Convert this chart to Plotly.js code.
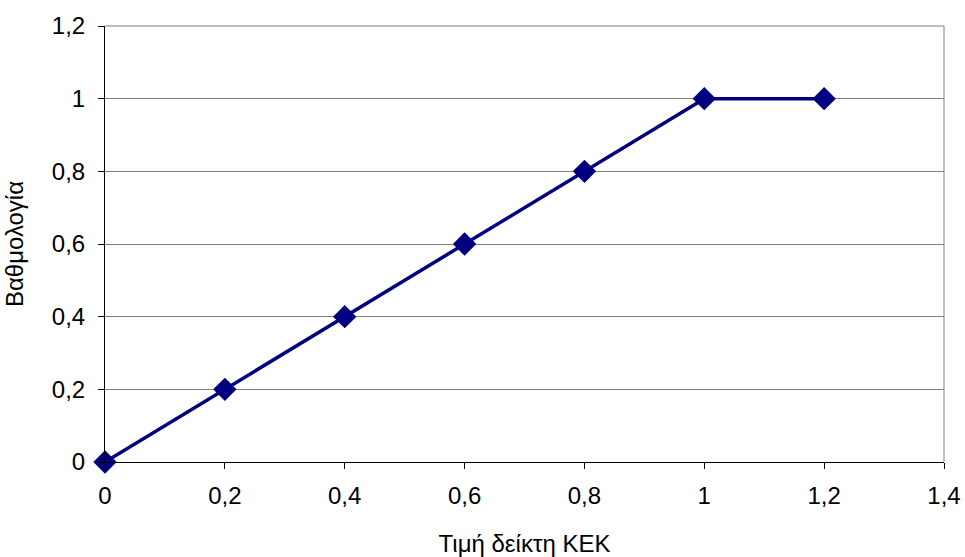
<!DOCTYPE html>
<html>
<head>
<meta charset="utf-8">
<script src="https://cdn.plot.ly/plotly-3.0.1.min.js"></script>
<style>html,body{margin:0;padding:0;background:#fff;}#chart{width:965px;height:557px;}</style>
</head>
<body>
<div id="chart"></div>
<script>
const xValues = [0, 0.2, 0.4, 0.6, 0.8, 1, 1.2];
const yValues = [0, 0.2, 0.4, 0.6, 0.8, 1, 1];
const xTitle = "Τιμή δείκτη ΚΕΚ";
const yTitle = "Βαθμολογία";

const trace = {
  x: xValues, y: yValues, type: "scatter", mode: "lines+markers",
  line: {color: "#000080", width: 3.5},
  marker: {symbol: "diamond", size: 18, color: "#000080"},
  cliponaxis: false, hoverinfo: "none"
};
const font = {family: "Liberation Sans, Arial, sans-serif", size: 24, color: "#000"};
const layout = {
  width: 965, height: 557,
  margin: {l: 105, r: 21, t: 26, b: 95},
  paper_bgcolor: "#fff", plot_bgcolor: "#fff",
  separators: ",.",
  showlegend: false,
  font: font,
  xaxis: {
    range: [0, 1.4], dtick: 0.2, tick0: 0,
    showgrid: false, zeroline: false,
    showline: true, linecolor: "#000", linewidth: 1,
    ticks: "outside", ticklen: 6, tickcolor: "#000",
    ticklabelstandoff: 6,
    tickfont: font,
    title: {text: xTitle, font: font, standoff: 30}
  },
  yaxis: {
    range: [0, 1.2], dtick: 0.2, tick0: 0,
    showgrid: true, gridcolor: "#808080", gridwidth: 1,
    zeroline: false,
    showline: true, linecolor: "#000", linewidth: 1,
    ticks: "outside", ticklen: 6, tickcolor: "#000",
    ticklabelstandoff: 8,
    tickfont: font,
    title: {text: yTitle, font: font, standoff: 21}
  },
  shapes: [
    {type: "line", xref: "paper", yref: "paper", x0: 1, x1: 1, y0: 0, y1: 1,
     line: {color: "#808080", width: 1}, layer: "below"},
    {type: "line", xref: "paper", yref: "paper", x0: 0, x1: 1, y0: 1, y1: 1,
     line: {color: "#808080", width: 1}, layer: "below"}
  ]
};
Plotly.newPlot("chart", [trace], layout, {staticPlot: true, displayModeBar: false});
</script>
</body>
</html>
